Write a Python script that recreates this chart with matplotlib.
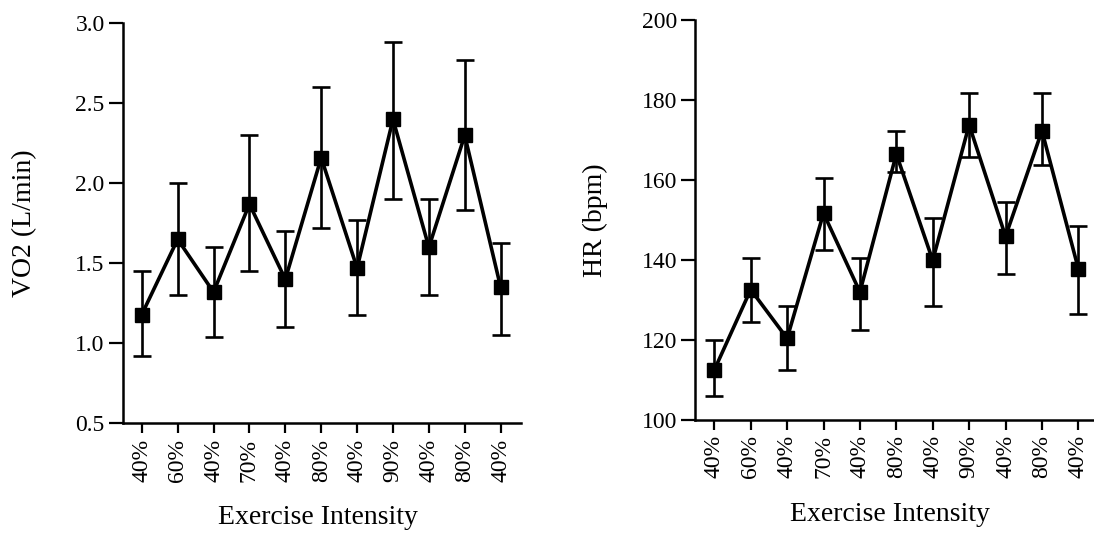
import numpy as np
import matplotlib
matplotlib.use("Agg")
import matplotlib.pyplot as plt

# exercise stages (x axis labels)
stages = ["40%", "60%", "40%", "70%", "40%", "80%", "40%", "90%", "40%", "80%", "40%"]

# VO2 (L/min): mean, upper and lower end of the error bar
vo2_mean = [1.18, 1.65, 1.32, 1.87, 1.40, 2.16, 1.47, 2.40, 1.60, 2.30, 1.35]
vo2_upper = [1.45, 2.00, 1.60, 2.30, 1.70, 2.60, 1.77, 2.88, 1.90, 2.77, 1.63]
vo2_lower = [0.92, 1.30, 1.04, 1.45, 1.10, 1.72, 1.18, 1.90, 1.30, 1.83, 1.05]

# HR (bpm)
hr_mean = [112.5, 132.6, 120.4, 151.7, 132.0, 166.5, 139.9, 173.8, 145.9, 172.3, 137.8]
hr_upper = [120.1, 140.5, 128.6, 160.6, 140.5, 172.3, 150.6, 181.8, 154.5, 181.8, 148.4]
hr_lower = [105.9, 124.6, 112.6, 142.6, 122.6, 162.0, 128.6, 165.7, 136.6, 163.8, 126.5]

plt.rcParams["font.family"] = ["Liberation Serif", "DejaVu Serif"]

fig = plt.figure(figsize=(10.94, 5.33), dpi=100)
ax1 = fig.add_axes([0.1122, 0.2058, 0.3638, 0.7505])
ax2 = fig.add_axes([0.6353, 0.2120, 0.3637, 0.7505])


def draw_panel(ax, mean, upper, lower, ylim, yticks, yfmt, ylabel, xmax, ylab_x):
    x = np.arange(len(stages))
    mean = np.array(mean)
    err = [mean - np.array(lower), np.array(upper) - mean]
    ax.errorbar(x, mean, yerr=err, color="black", linewidth=2.6, elinewidth=1.9,
                capsize=6.5, capthick=1.9, marker="s", markersize=10, zorder=3)
    ax.set_xlim(-0.53, xmax)
    ax.set_ylim(*ylim)
    ax.set_xticks(x)
    ax.set_xticklabels(stages, rotation=90, fontsize=17)
    ax.set_yticks(yticks)
    ax.set_yticklabels([yfmt.format(v) for v in yticks], fontsize=17)
    ax.tick_params(axis="y", direction="out", length=10, width=1.6, pad=3)
    ax.tick_params(axis="x", direction="out", length=7, width=1.6, pad=4)
    for s in ["top", "right"]:
        ax.spines[s].set_visible(False)
    for s in ["left", "bottom"]:
        ax.spines[s].set_linewidth(1.8)
    ax.set_xlabel("Exercise Intensity", fontsize=20, va="top")
    ax.xaxis.set_label_coords(0.49, -0.205)
    ax.set_ylabel(ylabel, fontsize=20)
    ax.yaxis.set_label_coords(ylab_x, 0.5)


draw_panel(ax1, vo2_mean, vo2_upper, vo2_lower, (0.5, 3.0),
           [0.5, 1.0, 1.5, 2.0, 2.5, 3.0], "{:.1f}", "VO2 (L/min)", 10.56, -0.214)
draw_panel(ax2, hr_mean, hr_upper, hr_lower, (100, 200),
           [100, 120, 140, 160, 180, 200], "{:.0f}", "HR (bpm)", 10.4, -0.218)

fig.savefig("out.png", dpi=100)
